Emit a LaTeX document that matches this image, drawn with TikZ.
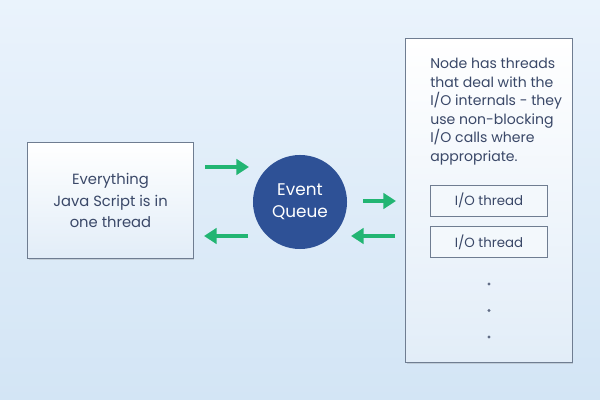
\documentclass[tikz,border=0pt]{standalone}
\usepackage{fontspec}
\setmainfont{Poppins}
\usetikzlibrary{shadows,arrows.meta}

\definecolor{bgtop}{HTML}{EAF3FC}
\definecolor{bgbottom}{HTML}{D3E5F5}
\definecolor{boxline}{HTML}{6F7D91}
\definecolor{boxbottom}{HTML}{E2EDF8}
\definecolor{inktext}{HTML}{3A4868}
\definecolor{queueblue}{HTML}{2E5196}
\definecolor{flowgreen}{HTML}{22B573}

\tikzset{
  panel/.style={rectangle,
    draw = boxline,
    line width = 0.7pt,
    top color = white,
    bottom color = boxbottom,
    text = inktext,
    drop shadow = {opacity=0.25, shadow xshift=0.4pt, shadow yshift=-1.2pt}},
  threadbox/.style={rectangle,
    draw = boxline,
    line width = 0.7pt,
    fill = white!60!boxbottom,
    text = inktext,
    minimum width = 2.9cm,
    minimum height = 0.775cm,
    font = \fontsize{9.5}{12}\selectfont},
  flow/.style={draw = flowgreen,
    line width = 2.8pt,
    -{Triangle[length=9pt,width=11pt]}},
  dot/.style={circle, fill = inktext!80, inner sep = 0pt, minimum size = 2.4pt}
}

\begin{document}
\begin{tikzpicture}[x=0.025cm, y=-0.025cm]

% background
\shade[top color = bgtop, bottom color = bgbottom] (0,0) rectangle (600,400);
\useasboundingbox (0,0) rectangle (600,400);

\node[panel,
    minimum width = 4.125cm,
    minimum height = 2.875cm,
    align = center,
    font = \fontsize{10.5}{15}\selectfont] (jsbox) at (110.5,200.5) {Everything\\Java Script is in\\one thread};

\node[circle,
    fill = queueblue,
    text = white,
    minimum size = 2.35cm,
    align = center,
    font = \fontsize{12}{15.5}\selectfont] (queue) at (300,202) {Event\\Queue};

\node[panel,
    minimum width = 4.15cm,
    minimum height = 8.075cm] (iopanel) at (489,200.5) {};

\node[anchor = north west,
    inner sep = 0pt,
    text = inktext,
    align = left,
    font = \fontsize{10}{13.2}\selectfont] (note) at (430,58) {Node has threads\\that deal with the\\I/O internals - they\\use non-blocking\\I/O calls where\\appropriate.};

\node[threadbox] (io1) at (489,200.5) {I/O thread};
\node[threadbox] (io2) at (489,242) {I/O thread};

\node[dot] (d1) at (489,284) {};
\node[dot] (d2) at (489,310.5) {};
\node[dot] (d3) at (489,337) {};

% arrows
\coordinate (jsout) at (205,167);
\coordinate (qin) at (249,167);
\coordinate (qout) at (248,236);
\coordinate (jsin) at (204,236);
\coordinate (qright) at (363,201);
\coordinate (ioin) at (396,201);
\coordinate (ioout) at (395,236);
\coordinate (qback) at (351,236);

\draw[flow] (jsout) -- (qin);
\draw[flow] (qout) -- (jsin);
\draw[flow] (qright) -- (ioin);
\draw[flow] (ioout) -- (qback);

\end{tikzpicture}
\end{document}
